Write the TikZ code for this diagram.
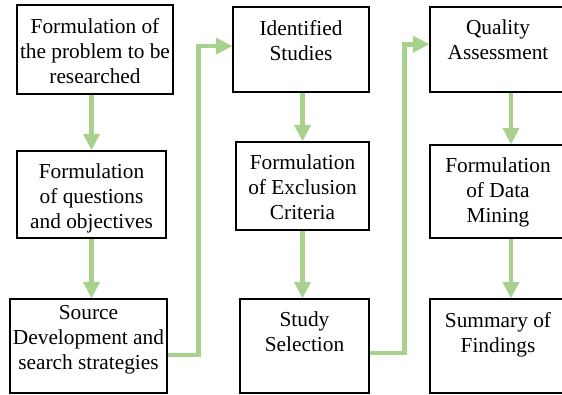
\documentclass[tikz,border=0pt]{standalone}
\usepackage{fontspec}
\setmainfont{Liberation Serif}
\usepackage{tikz}
\usetikzlibrary{arrows.meta, positioning}
\definecolor{flowgreen}{RGB}{169,209,142}

\begin{document}
\begin{tikzpicture}[x=0.75pt, y=-0.75pt,
    box/.style={rectangle, draw, line width=0.8pt, inner sep=0pt},
    txt/.style={anchor=north, align=center, inner sep=0pt, yshift=-10pt, font=\fontsize{16}{18.75}\selectfont},
    arrow/.style={-{Triangle[width=12pt, length=12.5pt]}, line width=3.5pt, draw=flowgreen}
]
\useasboundingbox (0,0) rectangle (562,394);

\node[box, minimum width=117pt, minimum height=66.75pt, label={[txt]north:{Formulation of\\the problem to be\\researched}}] (prob) at (95,49.5) {};
\node[box, minimum width=111.75pt, minimum height=65.25pt, label={[txt]north:{Formulation\\of questions\\and objectives}}] (quest) at (91.5,194.5) {};
\node[box, minimum width=117.75pt, minimum height=70.5pt, label={[txt, yshift=5pt]north:{Source\\Development and\\search strategies}}] (srcdev) at (88.5,346) {};

\node[box, minimum width=102pt, minimum height=63.75pt, label={[txt]north:{Identified\\Studies}}] (ident) at (301,49.5) {};
\node[box, minimum width=99.75pt, minimum height=66pt, label={[txt]north:{Formulation\\of Exclusion\\Criteria}}] (excl) at (302.5,186) {};
\node[box, minimum width=96.75pt, minimum height=70.5pt, label={[txt]north:{Study\\Selection}}] (select) at (304.5,346) {};

\node[box, minimum width=102pt, minimum height=63.75pt, label={[txt]north:{Quality\\Assessment}}] (qual) at (498,49.5) {};
\node[box, minimum width=102pt, minimum height=69.75pt, label={[txt]north:{Formulation\\of Data\\Mining}}] (datam) at (498,191.5) {};
\node[box, minimum width=102pt, minimum height=70.5pt, label={[txt]north:{Summary of\\Findings}}] (summ) at (498,346) {};

\draw[arrow] (quest.north |- prob.south) -- (quest.north);
\draw[arrow] (quest.south) -- (quest.south |- srcdev.north);
\draw[arrow] ([yshift=-6.75pt]srcdev.east) -- ++(31,0) |- ([yshift=2.6pt]ident.west);

\draw[arrow] (excl.north |- ident.south) -- (excl.north);
\draw[arrow] (excl.south) -- (excl.south |- select.north);
\draw[arrow] ([yshift=-5.25pt]select.east) -- ++(35,0) |- ([yshift=4pt]qual.west);

\draw[arrow] ([xshift=9.75pt]qual.south) -- ([xshift=9.75pt]datam.north);
\draw[arrow] ([xshift=9.75pt]datam.south) -- ([xshift=9.75pt]summ.north);

\end{tikzpicture}
\end{document}
